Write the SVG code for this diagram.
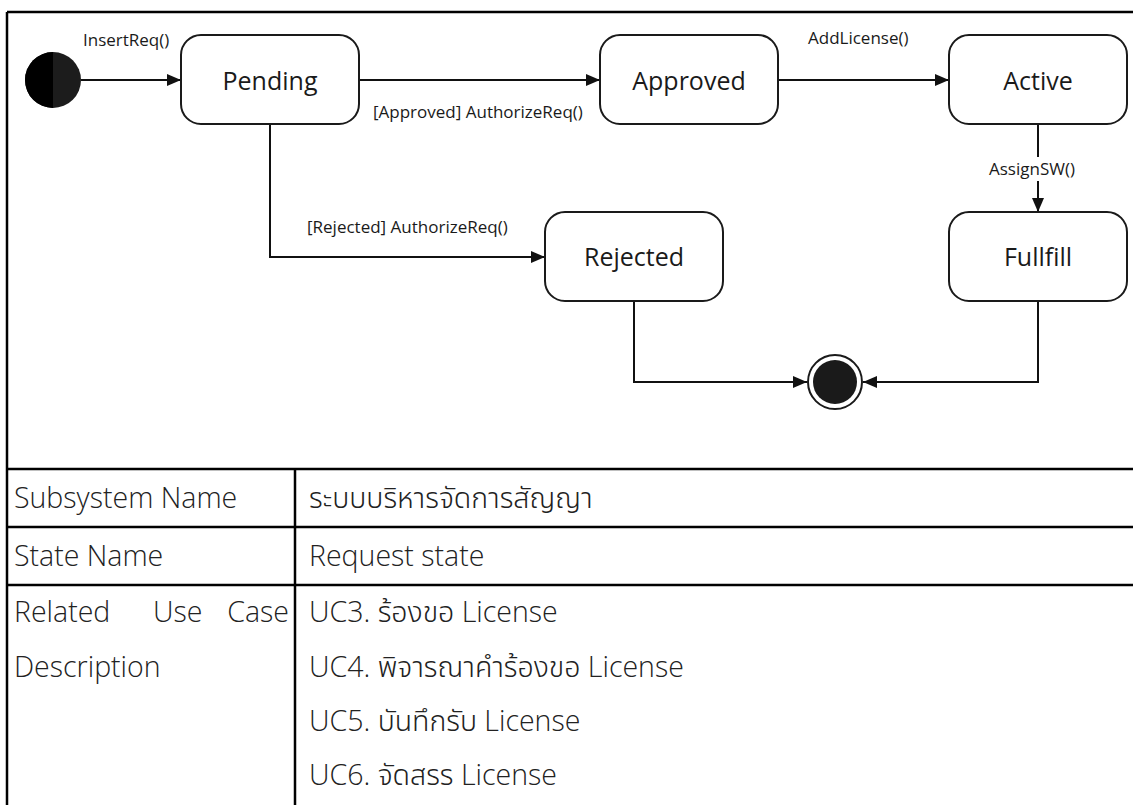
<svg xmlns="http://www.w3.org/2000/svg" width="1133" height="805" viewBox="0 0 1133 805">
<defs>
<marker id="arr" viewBox="0 0 14 12" refX="14" refY="6" markerWidth="14" markerHeight="12" markerUnits="userSpaceOnUse" orient="auto">
<path d="M0,0 L14,6 L0,12 Z" fill="#111"/>
</marker>
<style>
.state{fill:#fff;stroke:#1a1a1a;stroke-width:2}
.sname{font-family:"Open Sans","Noto Sans","DejaVu Sans",sans-serif;font-size:25px;fill:#1a1a1a;text-anchor:middle}
.lbl{font-family:"Open Sans","Noto Sans","DejaVu Sans",sans-serif;font-size:17px;fill:#1a1a1a}
.conn{fill:none;stroke:#111;stroke-width:2}
.grid{stroke:#000;stroke-width:2.5;fill:none}
.cell{font-family:"Open Sans","Noto Sans","Noto Sans Thai","Loma","Garuda","DejaVu Sans",sans-serif;font-size:28.5px;font-weight:300;fill:#222}
</style>
</defs>
<rect x="0" y="0" width="1133" height="805" fill="#fff"/>

<g id="table">
<path class="grid" d="M7,12 H1133 M7,12 V805 M7,469 H1133 M7,527 H1133 M7,585 H1133 M295,469 V805"/>
<text class="cell" x="14" y="508">Subsystem Name</text>
<text class="cell" x="309" y="508">ระบบบริหารจัดการสัญญา</text>
<text class="cell" x="14" y="566">State Name</text>
<text class="cell" x="309" y="566">Request state</text>
<text class="cell" x="14" y="622">Related</text>
<text class="cell" x="153" y="622">Use</text>
<text class="cell" x="289" y="622" text-anchor="end">Case</text>
<text class="cell" x="14" y="677">Description</text>
<text class="cell" x="309" y="622">UC3. ร้องขอ License</text>
<text class="cell" x="309" y="677">UC4. พิจารณาคำร้องขอ License</text>
<text class="cell" x="309" y="731">UC5. บันทึกรับ License</text>
<text class="cell" x="309" y="785">UC6. จัดสรร License</text>
</g>

<g id="connectors">
<path class="conn" d="M81,80 H181" marker-end="url(#arr)"/>
<path class="conn" d="M359,80 H600" marker-end="url(#arr)"/>
<path class="conn" d="M778,80 H949" marker-end="url(#arr)"/>
<path class="conn" d="M1038,124 V212" marker-end="url(#arr)"/>
<path class="conn" d="M270,124 V257 H545" marker-end="url(#arr)"/>
<path class="conn" d="M634,301 V382 H807" marker-end="url(#arr)"/>
<path class="conn" d="M1038,301 V382 H863" marker-end="url(#arr)"/>
<text class="lbl" x="83" y="46">InsertReq()</text>
<text class="lbl" x="373" y="118">[Approved] AuthorizeReq()</text>
<text class="lbl" x="808" y="44">AddLicense()</text>
<rect x="986" y="157" width="92" height="24" fill="#fff"/>
<text class="lbl" x="1032" y="175" text-anchor="middle">AssignSW()</text>
<text class="lbl" x="307" y="233">[Rejected] AuthorizeReq()</text>
</g>

<g id="initial">
<circle cx="53" cy="80" r="28" fill="#1c1c1c"/>
<path d="M53,52 A28,28 0 0 0 53,108 Z" fill="#000"/>
</g>

<g id="pending">
<rect class="state" x="181" y="35" width="178" height="89" rx="20" ry="20"/>
<text class="sname" x="270" y="90">Pending</text>
</g>

<g id="approved">
<rect class="state" x="600" y="35" width="178" height="89" rx="20" ry="20"/>
<text class="sname" x="689" y="90">Approved</text>
</g>

<g id="active">
<rect class="state" x="949" y="35" width="178" height="89" rx="20" ry="20"/>
<text class="sname" x="1038" y="90">Active</text>
</g>

<g id="fullfill">
<rect class="state" x="949" y="212" width="178" height="89" rx="20" ry="20"/>
<text class="sname" x="1038" y="266">Fullfill</text>
</g>

<g id="rejected">
<rect class="state" x="545" y="212" width="178" height="89" rx="20" ry="20"/>
<text class="sname" x="634" y="266">Rejected</text>
</g>

<g id="final">
<circle cx="835" cy="382" r="27" fill="#fff" stroke="#1a1a1a" stroke-width="2"/>
<circle cx="835" cy="382" r="22" fill="#1a1a1a"/>
</g>
</svg>
